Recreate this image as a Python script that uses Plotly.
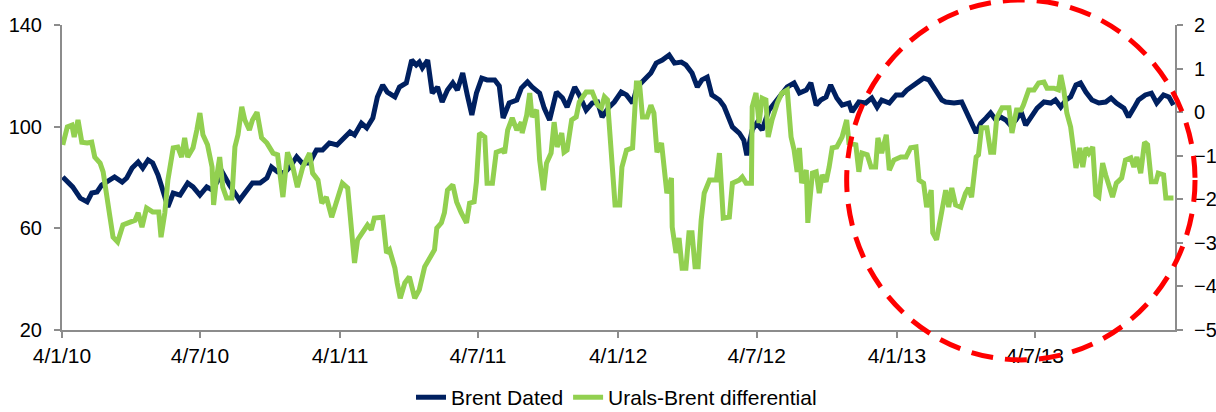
import pandas as pd
import plotly.graph_objects as go

START = pd.Timestamp("2010-01-04")

# Brent Dated (USD/bbl), x = days since 4 Jan 2010
brent_days = [1, 14, 24, 33, 39, 46, 52, 63, 69, 79, 85, 92, 100, 106, 113, 119, 126, 131, 139, 146,
              155, 165, 172, 181, 190, 197, 203, 211, 220, 233, 243, 250, 260, 269, 275, 283, 292, 299, 308, 315,
              325, 334, 342, 351, 361, 368, 378, 384, 393, 400, 408, 414, 421, 427, 437, 443, 452, 459, 465, 469,
              473, 480, 486, 493, 499, 506, 513, 519, 526, 532, 538, 544, 551, 558, 568, 574, 579, 587, 597, 603,
              611, 617, 627, 633, 640, 649, 657, 663, 673, 679, 688, 696, 703, 709, 718, 725, 734, 741, 749, 755,
              764, 773, 780, 788, 797, 804, 813, 819, 827, 834, 840, 847, 853, 863, 869, 880, 889, 895, 899, 906,
              912, 919, 928, 937, 944, 952, 961, 968, 977, 983, 990, 996, 1003, 1009, 1017, 1024, 1033, 1037, 1046, 1055,
              1063, 1070, 1076, 1086, 1095, 1103, 1109, 1118, 1125, 1131, 1138, 1147, 1155, 1160, 1171, 1181, 1188, 1194, 1200, 1206,
              1213, 1219, 1226, 1232, 1239, 1245, 1252, 1259, 1265, 1272, 1280, 1289, 1298, 1304, 1311, 1318, 1324, 1331, 1337, 1344,
              1352, 1361, 1370, 1377, 1384, 1394, 1400, 1407, 1413, 1422, 1430, 1437, 1446, 1453, 1459]
brent_vals = [80.2, 76.3, 71.9, 70.4, 73.9, 74.3, 77.0, 79.0, 80.2, 78.2, 79.8, 83.7, 86.1, 83.7, 86.9, 85.7, 81.0, 76.3, 68.4, 73.9,
              73.1, 77.8, 76.3, 73.1, 76.3, 75.1, 77.8, 81.8, 77.0, 71.1, 75.1, 77.8, 77.8, 79.8, 84.1, 82.2, 81.8, 84.1, 88.1, 85.7,
              85.7, 90.8, 90.8, 93.6, 92.8, 94.7, 97.9, 96.7, 101.4, 99.5, 103.4, 111.7, 116.4, 113.6, 111.7, 115.6, 117.2, 126.2, 124.3, 125.4,
              123.1, 126.2, 113.2, 115.6, 109.7, 114.4, 117.2, 114.4, 121.1, 112.5, 104.6, 113.2, 119.1, 118.4, 118.4, 116.0, 103.4, 109.3, 110.5, 115.2,
              117.6, 115.6, 113.2, 107.3, 102.6, 113.6, 111.3, 107.7, 115.6, 112.5, 106.5, 109.3, 109.7, 103.8, 107.7, 109.7, 113.6, 112.5, 109.3, 115.6,
              118.4, 121.1, 125.0, 126.2, 128.2, 125.0, 125.4, 124.3, 121.1, 115.6, 118.4, 119.5, 112.5, 110.5, 108.0, 99.9, 97.5, 94.7, 88.8, 98.7,
              101.4, 98.7, 106.5, 109.7, 112.5, 115.6, 117.2, 113.2, 114.4, 117.2, 108.5, 110.5, 111.7, 116.4, 111.3, 108.5, 109.3, 105.8, 109.7, 109.3,
              111.3, 107.7, 110.5, 109.3, 112.5, 112.5, 114.4, 116.4, 117.6, 119.1, 118.4, 114.4, 110.5, 109.7, 109.3, 109.7, 104.6, 101.4, 97.5, 101.4,
              103.4, 105.4, 102.6, 103.8, 102.6, 100.6, 102.6, 105.8, 100.6, 103.8, 107.3, 109.7, 109.3, 110.5, 107.7, 110.5, 111.7, 116.4, 117.2, 113.6,
              110.5, 109.3, 109.7, 111.3, 109.3, 107.3, 103.8, 107.3, 110.5, 112.5, 113.2, 109.3, 112.5, 111.7, 108.5]

# Urals-Brent differential (USD/bbl), x = days since 4 Jan 2010
urals_days = [1, 7, 13, 16, 21, 26, 33, 39, 43, 50, 54, 59, 63, 67, 73, 80, 89, 96, 100, 105,
              111, 119, 127, 130, 135, 139, 146, 152, 157, 161, 165, 172, 177, 181, 185, 191, 197, 199, 203, 207,
              211, 216, 223, 227, 231, 236, 240, 246, 250, 256, 262, 269, 277, 283, 290, 296, 303, 309, 316, 325,
              329, 336, 341, 347, 354, 361, 368, 375, 380, 384, 388, 395, 401, 406, 410, 421, 426, 430, 437, 440,
              444, 450, 456, 463, 469, 476, 482, 489, 492, 498, 502, 506, 513, 518, 524, 531, 535, 541, 544, 548,
              555, 558, 565, 570, 578, 581, 585, 591, 597, 603, 604, 610, 614, 617, 623, 627, 632, 636, 642, 646,
              650, 656, 659, 663, 669, 675, 679, 688, 696, 703, 708, 712, 716, 722, 726, 732, 735, 741, 749, 754,
              758, 762, 768, 773, 777, 781, 787, 791, 794, 800, 801, 806, 810, 814, 819, 823, 827, 831, 835, 839,
              843, 850, 859, 863, 868, 876, 880, 889, 893, 898, 905, 906, 911, 915, 919, 924, 927, 932, 939, 945,
              952, 957, 961, 965, 968, 971, 977, 979, 985, 990, 994, 998, 1003, 1007, 1011, 1017, 1024, 1030, 1033, 1042,
              1046, 1050, 1057, 1062, 1068, 1071, 1076, 1082, 1086, 1092, 1101, 1108, 1114, 1121, 1125, 1131, 1135, 1141, 1143, 1148,
              1154, 1160, 1164, 1168, 1173, 1180, 1186, 1190, 1194, 1200, 1203, 1207, 1214, 1219, 1223, 1227, 1234, 1243, 1247, 1253,
              1259, 1262, 1269, 1276, 1282, 1289, 1293, 1302, 1308, 1311, 1315, 1319, 1324, 1328, 1331, 1336, 1340, 1344, 1348, 1353,
              1357, 1361, 1366, 1370, 1374, 1379, 1384, 1391, 1396, 1403, 1407, 1411, 1416, 1421, 1425, 1430, 1436, 1439, 1446, 1449, 1459]
urals_vals = [-0.75, -0.34, -0.30, -0.57, -0.18, -0.69, -0.71, -0.69, -1.03, -1.17, -1.37, -1.86, -2.41, -2.87, -2.98, -2.59, -2.52, -2.48, -2.31, -2.64,
              -2.20, -2.29, -2.29, -2.87, -2.31, -1.56, -0.82, -0.80, -1.03, -0.59, -1.03, -0.82, -0.41, -0.02, -0.52, -0.75, -1.26, -2.13, -1.49, -1.03,
              -1.72, -1.97, -1.97, -0.80, -0.52, 0.12, -0.18, -0.41, -0.18, 0.00, -0.59, -0.71, -0.94, -0.98, -1.95, -0.92, -1.26, -1.72, -1.26, -0.94,
              -1.40, -1.56, -2.09, -1.95, -2.41, -2.02, -1.63, -1.74, -2.77, -3.46, -2.93, -2.77, -2.59, -2.70, -2.43, -2.41, -3.23, -3.16, -3.58, -3.92,
              -4.27, -3.92, -3.78, -4.27, -4.08, -3.55, -3.39, -3.16, -2.66, -2.54, -2.31, -1.79, -1.67, -2.06, -2.31, -2.54, -2.09, -2.06, -1.60, -0.48,
              -0.57, -1.63, -1.63, -0.92, -0.87, -0.94, -0.41, -0.13, -0.41, -0.23, -0.48, -0.07, 0.44, -0.11, 0.05, -1.10, -1.79, -1.17, -0.94, -0.23,
              -0.80, -0.48, -0.92, -0.87, -0.18, -0.11, 0.23, 0.46, 0.46, 0.16, 0.10, 0.35, 0.28, -1.10, -2.13, -2.13, -1.26, -0.87, -0.82, 0.67,
              0.67, -0.11, -0.11, 0.16, -0.02, -0.92, -0.71, -1.37, -1.86, -1.51, -2.64, -3.23, -2.89, -3.58, -3.58, -2.77, -2.77, -3.55, -3.55, -2.48,
              -1.86, -1.56, -1.56, -0.94, -2.43, -2.41, -1.63, -1.56, -1.49, -1.63, -1.63, 0.12, 0.44, -0.25, 0.32, 0.28, -0.57, -0.18, 0.21, 0.44,
              0.51, -0.57, -0.87, -1.37, -0.82, -1.63, -1.33, -2.54, -1.40, -1.37, -1.86, -1.44, -1.60, -1.26, -0.82, -0.80, -0.57, -0.18, -0.71, -0.75,
              -1.37, -0.94, -0.98, -1.26, -1.26, -0.59, -0.94, -0.52, -1.33, -1.10, -1.03, -1.03, -0.82, -0.80, -1.56, -1.63, -2.18, -1.79, -2.77, -2.93,
              -2.41, -1.79, -2.18, -1.74, -2.13, -2.18, -1.86, -1.74, -1.95, -1.03, -0.98, -0.36, -0.36, -0.92, -0.92, -0.13, 0.10, 0.10, -0.48, 0.05,
              0.05, 0.16, 0.51, 0.51, 0.67, 0.69, 0.55, 0.55, 0.51, 0.85, 0.51, -0.02, -0.34, -0.80, -1.28, -0.82, -1.26, -0.82, -0.94, -0.80,
              -1.90, -1.95, -1.17, -1.44, -1.63, -1.95, -1.63, -1.51, -1.10, -1.05, -1.26, -1.03, -1.40, -0.69, -0.75, -1.60, -1.60, -1.40, -1.44, -1.97, -1.97]

tick_dates = ["2010-01-04", "2010-07-04", "2011-01-04", "2011-07-04",
              "2012-01-04", "2012-07-04", "2013-01-04", "2013-07-04"]
tick_text = ["4/1/10", "4/7/10", "4/1/11", "4/7/11", "4/1/12", "4/7/12", "4/1/13", "4/7/13"]

brent_x = START + pd.to_timedelta(brent_days, unit="D")
urals_x = START + pd.to_timedelta(urals_days, unit="D")

NAVY = "#002060"
GREEN = "#92D050"
AXIS = "#8c8c8c"
FONT = "Liberation Sans, Arial, sans-serif"

fig = go.Figure()
fig.add_trace(go.Scatter(x=brent_x, y=brent_vals, name="Brent Dated", mode="lines",
                         line=dict(color=NAVY, width=5), yaxis="y"))
fig.add_trace(go.Scatter(x=urals_x, y=urals_vals, name="Urals-Brent differential", mode="lines",
                         line=dict(color=GREEN, width=5), yaxis="y2"))

fig.update_layout(
    width=1216, height=412,
    margin=dict(l=62, r=41, t=25, b=82, autoexpand=False),
    paper_bgcolor="white", plot_bgcolor="white",
    font=dict(family=FONT, size=20, color="#000000"),
    showlegend=True,
    legend=dict(orientation="h", x=0.507, xanchor="center", xref="container",
                y=0.035, yanchor="middle", yref="container",
                font=dict(size=21), bgcolor="rgba(0,0,0,0)"),
    xaxis=dict(range=["2010-01-04", "2014-01-04"], tickvals=tick_dates, ticktext=tick_text,
               showgrid=False, zeroline=False, showline=True, linecolor=AXIS, linewidth=2,
               ticks="outside", ticklen=6, tickcolor=AXIS, tickwidth=2, automargin=False,
               tickfont=dict(size=21)),
    yaxis=dict(range=[20, 140], tickvals=[20, 60, 100, 140], showgrid=False, zeroline=False,
               showline=True, linecolor=AXIS, linewidth=2, ticks="outside", ticklen=6,
               tickcolor=AXIS, tickwidth=2, tickfont=dict(size=20), ticklabelstandoff=8,
               automargin=False),
    yaxis2=dict(range=[-5, 2], tickvals=[-5, -4, -3, -2, -1, 0, 1, 2], overlaying="y", side="right",
                showgrid=False, zeroline=False, showline=True, linecolor=AXIS, linewidth=2,
                ticks="outside", ticklen=6, tickcolor=AXIS, tickwidth=2, tickfont=dict(size=20),
                ticklabelstandoff=7, automargin=False),
)

# red dashed circle highlighting the latest period
fig.add_shape(type="circle", xref="paper", yref="paper",
              x0=0.705, x1=1.018, y0=-0.098, y1=1.082,
              line=dict(color="#FF0000", width=5, dash="22px,12px"), layer="above")

fig.write_html("out.html", config={"displayModeBar": False},
               post_script="document.body.style.margin='0';document.body.style.overflow='hidden';")
